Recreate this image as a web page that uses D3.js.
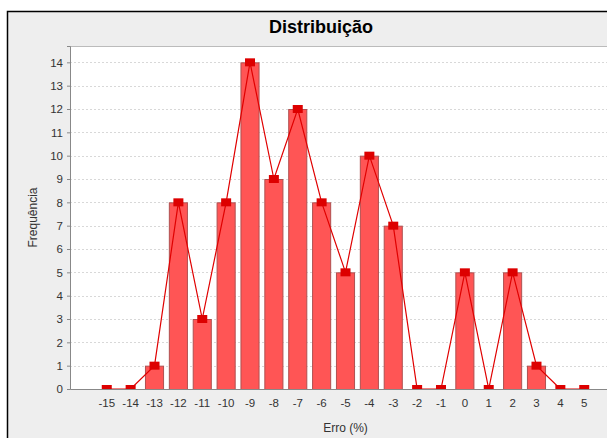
<!DOCTYPE html>
<html>
<head>
<meta charset="utf-8">
<script src="https://cdn.jsdelivr.net/npm/d3@7"></script>
<style>
  html, body { margin: 0; background: #eeeeee; overflow: hidden; width: 607px; height: 438px; }
  svg { display: block; font-family: "Liberation Sans", Arial, sans-serif; }
  .grid-line { stroke: #d8d8d8; stroke-width: 1; stroke-dasharray: 2,2; }
</style>
</head>
<body>
<script>
const W = 607, H = 438;
const MARGIN = {top: 46, left: 70, right: -14, bottom: 49};

// data
const categories = ["-15","-14","-13","-12","-11","-10","-9","-8","-7","-6","-5","-4","-3","-2","-1","0","1","2","3","4","5"];
const frequencies = [0, 0, 1, 8, 3, 8, 14, 9, 12, 8, 5, 10, 7, 0, 0, 5, 0, 5, 1, 0, 0];
const yTicks = [0,1,2,3,4,5,6,7,8,9,10,11,12,13,14];

const svg = d3.select("body").append("svg").attr("width", W).attr("height", H);

// chart background, only left and top of the frame are in view
svg.append("rect").attr("width", W).attr("height", H).attr("fill", "#fff");
svg.append("rect").attr("x", 7).attr("y", 11).attr("width", W - 7).attr("height", H - 11).attr("fill", "#eeeeee");
svg.append("path").attr("d", `M7.5,${H}V11.5H${W}`).attr("fill", "none")
  .attr("stroke", "#000").attr("stroke-width", 1.5);

const plotLeft = MARGIN.left, plotTop = MARGIN.top;
const plotRight = W - MARGIN.right, plotBottom = H - MARGIN.bottom;

svg.append("text")
  .attr("x", 321).attr("y", 33)
  .attr("text-anchor", "middle")
  .style("font-size", "18px").style("font-weight", "bold")
  .text("Distribuição");

svg.append("rect").attr("x", plotLeft).attr("y", plotTop)
  .attr("width", plotRight - plotLeft).attr("height", plotBottom - plotTop)
  .attr("fill", "#fff");
svg.append("line").attr("x1", plotLeft).attr("x2", plotRight).attr("y1", plotTop + 0.5).attr("y2", plotTop + 0.5)
  .attr("stroke", "#bbb");

const x = d3.scaleBand().domain(categories).range([plotLeft, plotRight])
  .paddingInner(0.2).paddingOuter(1.14);
const y = d3.scaleLinear().domain([0, 14.7]).range([plotBottom, plotTop]);

svg.append("defs").append("clipPath").attr("id", "clip")
  .append("rect").attr("x", plotLeft).attr("y", plotTop)
  .attr("width", plotRight - plotLeft).attr("height", plotBottom - plotTop);

// grid
svg.append("g").selectAll("line").data(yTicks.filter(d => d > 0)).join("line")
  .attr("class", "grid-line")
  .attr("x1", plotLeft).attr("x2", plotRight)
  .attr("y1", d => Math.round(y(d)) + 0.5).attr("y2", d => Math.round(y(d)) + 0.5);

const plot = svg.append("g").attr("clip-path", "url(#clip)");

plot.selectAll("rect.bar").data(frequencies).join("rect")
  .attr("class", "bar")
  .attr("x", (d, i) => x(categories[i]) + 0.5)
  .attr("y", d => y(d) + 0.5)
  .attr("width", x.bandwidth() - 1)
  .attr("height", d => Math.max(0, y(0) - y(d)))
  .attr("fill", "#ff5555")
  .attr("stroke", d => d > 0 ? "#b05050" : "none")
  .attr("stroke-width", 1);

const line = d3.line()
  .x((d, i) => x(categories[i]) + x.bandwidth() / 2)
  .y(d => y(d));

plot.append("path").datum(frequencies)
  .attr("d", line)
  .attr("fill", "none")
  .attr("stroke", "#e00000")
  .attr("stroke-width", 1.2);

plot.selectAll("rect.marker").data(frequencies).join("rect")
  .attr("class", "marker")
  .attr("x", (d, i) => x(categories[i]) + x.bandwidth() / 2 - 5)
  .attr("y", d => y(d) - 4)
  .attr("width", 10).attr("height", 8)
  .attr("fill", "#dd0000");

// axes
const xAxis = svg.append("g").attr("transform", `translate(0,${plotBottom})`)
  .call(d3.axisBottom(x).tickSize(0).tickPadding(10));
xAxis.select(".domain").attr("stroke", "#888");
xAxis.selectAll("text").style("font-size", "11.5px").attr("fill", "#333");

const yAxis = svg.append("g").attr("transform", `translate(${plotLeft},0)`)
  .call(d3.axisLeft(y).tickValues(yTicks).tickSize(3).tickPadding(4).tickFormat(d3.format("d")));
yAxis.select(".domain").attr("stroke", "#888");
yAxis.selectAll(".tick line").attr("stroke", "#888");
yAxis.selectAll("text").style("font-size", "11.5px").attr("fill", "#333");

svg.append("text")
  .attr("transform", `translate(37,${(plotTop + plotBottom) / 2}) rotate(-90)`)
  .attr("text-anchor", "middle")
  .style("font-size", "12px").attr("fill", "#333")
  .text("Frequência");

svg.append("text")
  .attr("x", (plotLeft + plotRight) / 2).attr("y", 432)
  .attr("text-anchor", "middle")
  .style("font-size", "12px").attr("fill", "#333")
  .text("Erro (%)");
</script>
</body>
</html>
